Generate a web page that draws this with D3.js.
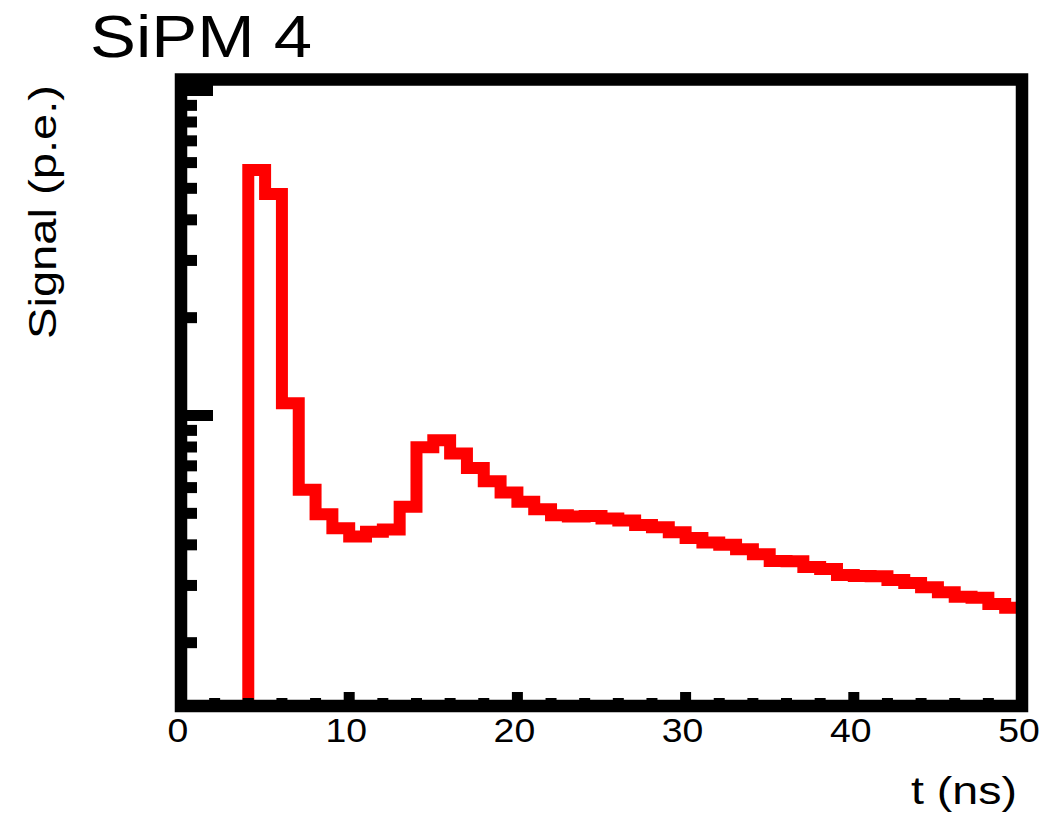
<!DOCTYPE html>
<html>
<head>
<meta charset="utf-8">
<script src="https://cdn.jsdelivr.net/npm/d3@7"></script>
<style>
  html, body { margin: 0; padding: 0; background: #fff; }
  svg { display: block; }
  text { font-family: "Liberation Sans", Arial, Helvetica, sans-serif; fill: #000; }
</style>
</head>
<body>
<svg id="chart" width="1041" height="819"></svg>
<script>
// ---- data ----
const title = "SiPM 4";
const xTitle = "t (ns)";
const yTitle = "Signal (p.e.)";
const binLowEdges = [0,1,2,3,4,5,6,7,8,9,10,11,12,13,14,15,16,17,18,19,20,21,22,23,24,
                     25,26,27,28,29,30,31,32,33,34,35,36,37,38,39,40,41,42,43,44,45,46,47,48,49];
const binWidth = 1;
const signal = [0, 0, 0, 0, 569, 480, 109, 59.1, 49.7, 45.0,
                42.4, 43.9, 44.6, 52.4, 79.9, 83.9, 76.4, 69.0, 62.8, 58.0,
                54.3, 51.5, 49.3, 48.9, 49.1, 48.2, 47.5, 46.0, 45.3, 43.7,
                42.0, 40.7, 40.0, 38.8, 37.4, 35.7, 35.6, 34.2, 33.7, 32.3,
                32.1, 32.0, 31.2, 30.5, 29.6, 28.6, 27.7, 27.5, 26.3, 25.6];
const xDomain = [0, 50];
const yDomain = [12.77, 1081];
const xMajorTicks = [0, 10, 20, 30, 40, 50];
const xTickLabels = ["0", "10", "20", "30", "40", "50"];
const xMinorTicks = [2,4,6,8,12,14,16,18,22,24,26,28,32,34,36,38,42,44,46,48];
const yMajorTicks = [100, 1000];
const yMinorTicks = [20,30,40,50,60,70,80,90,200,300,400,500,600,700,800,900];

// ---- layout ----
const frame = {left: 181, right: 1022, top: 79.5, bottom: 706};
const svg = d3.select("#chart");

const x = d3.scaleLinear().domain(xDomain).range([frame.left, frame.right]);
const y = d3.scaleLog().domain(yDomain).range([frame.bottom, frame.top]);

// histogram outline
const pts = [];
binLowEdges.forEach((lo, i) => {
  const v = signal[i] > 0 ? signal[i] : yDomain[0];
  pts.push([lo, v]);
  pts.push([lo + binWidth, v]);
});
const line = d3.line().x(d => x(d[0])).y(d => y(d[1]));

svg.append("defs").append("clipPath").attr("id", "clip")
  .append("rect")
  .attr("x", frame.left).attr("y", frame.top)
  .attr("width", frame.right - frame.left).attr("height", frame.bottom - frame.top);

svg.append("path")
  .attr("d", line(pts))
  .attr("clip-path", "url(#clip)")
  .attr("fill", "none")
  .attr("stroke", "#ff0000")
  .attr("stroke-width", 12)
  .attr("stroke-linejoin", "miter")
  .attr("stroke-linecap", "butt");

// frame
svg.append("rect")
  .attr("x", frame.left).attr("y", frame.top)
  .attr("width", frame.right - frame.left).attr("height", frame.bottom - frame.top)
  .attr("fill", "none").attr("stroke", "#000").attr("stroke-width", 12.5);

// y ticks (log, inward from left axis)
const gy = svg.append("g");
gy.selectAll("line.ymin").data(yMinorTicks).join("line")
  .attr("x1", frame.left).attr("x2", frame.left + 16)
  .attr("y1", d => y(d)).attr("y2", d => y(d))
  .attr("stroke", "#000").attr("stroke-width", 11);
gy.selectAll("line.ymaj").data(yMajorTicks).join("line")
  .attr("x1", frame.left).attr("x2", frame.left + 32)
  .attr("y1", d => y(d)).attr("y2", d => y(d))
  .attr("stroke", "#000").attr("stroke-width", 11);

// x ticks (inward from bottom axis)
const gx = svg.append("g");
gx.selectAll("line.xmin").data(xMinorTicks).join("line")
  .attr("x1", d => x(d)).attr("x2", d => x(d))
  .attr("y1", frame.bottom).attr("y2", frame.bottom - 8)
  .attr("stroke", "#000").attr("stroke-width", 11);
gx.selectAll("line.xmaj").data(xMajorTicks).join("line")
  .attr("x1", d => x(d)).attr("x2", d => x(d))
  .attr("y1", frame.bottom).attr("y2", frame.bottom - 14)
  .attr("stroke", "#000").attr("stroke-width", 11);

// x tick labels
gx.selectAll("text").data(xMajorTicks).join("text")
  .attr("x", d => x(d) - 3)
  .attr("y", 742)
  .attr("text-anchor", "middle")
  .attr("font-size", 32.5)
  .attr("transform", d => `translate(${x(d) - 3},0) scale(1.15,1) translate(${-(x(d) - 3)},0)`)
  .text((d, i) => xTickLabels[i]);

// titles
svg.append("text")
  .attr("x", 90).attr("y", 57)
  .attr("font-size", 59)
  .attr("textLength", 222).attr("lengthAdjust", "spacingAndGlyphs")
  .text(title);

svg.append("text")
  .attr("x", 911).attr("y", 804)
  .attr("font-size", 38)
  .attr("textLength", 106).attr("lengthAdjust", "spacingAndGlyphs")
  .text(xTitle);

svg.append("text")
  .attr("transform", "translate(56,339) rotate(-90)")
  .attr("x", 0).attr("y", 0)
  .attr("font-size", 38)
  .attr("textLength", 254).attr("lengthAdjust", "spacingAndGlyphs")
  .text(yTitle);
</script>
</body>
</html>
